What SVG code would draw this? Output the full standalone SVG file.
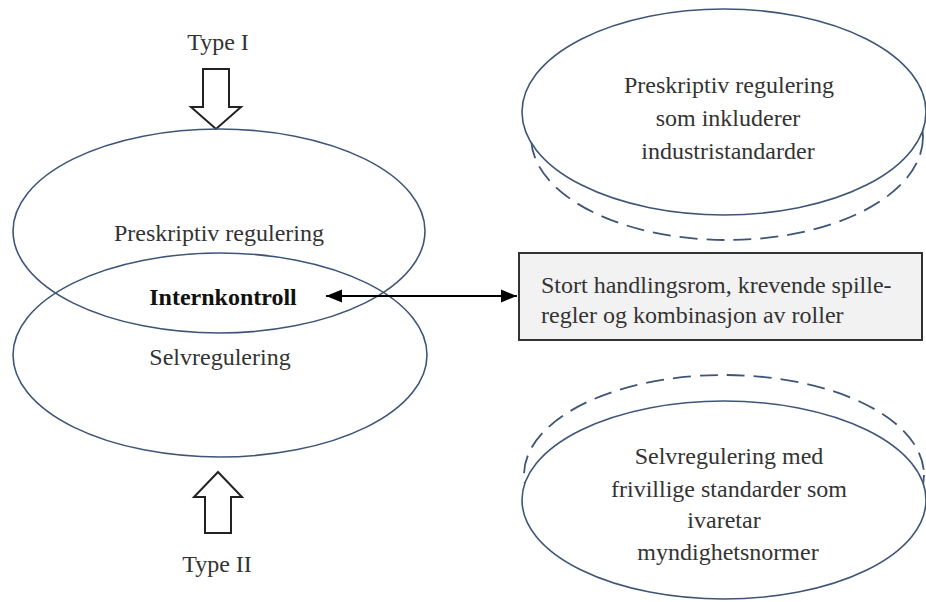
<svg xmlns="http://www.w3.org/2000/svg" width="926" height="602" viewBox="0 0 926 602">
<defs>
<style>
.ell{fill:none;stroke:#3f5577;stroke-width:1.6}
.ellw{fill:#ffffff;stroke:#3f5577;stroke-width:1.6}
.dash{fill:none;stroke:#3f5577;stroke-width:1.8;stroke-dasharray:18 9}
.blk{fill:#ffffff;stroke:#222;stroke-width:2}
.t{font-family:"Liberation Serif","Times New Roman",serif;font-size:24px;fill:#333;text-anchor:middle}
.tl{font-family:"Liberation Serif","Times New Roman",serif;font-size:24px;fill:#333}
.b{font-weight:bold;fill:#111}
.con{stroke:#000;stroke-width:2;fill:none}
</style>
<marker id="ah" viewBox="0 0 10 10" refX="10" refY="5" markerWidth="8" markerHeight="8" markerUnits="strokeWidth" orient="auto-start-reverse">
<path d="M0,1 L10,5 L0,9 Z" fill="#000"/>
</marker>
</defs>
<rect width="926" height="602" fill="#ffffff"/>

<g id="type1">
<text class="t" x="218" y="50">Type I</text>
<path class="blk" d="M203,69 L229,69 L229,107 L241,107 L216,129 L191,107 L203,107 Z"/>
</g>

<g id="type2">
<path class="blk" d="M218,472 L242,497 L231,497 L231,533 L205,533 L205,497 L194,497 Z"/>
<text class="t" x="217" y="572">Type II</text>
</g>

<g id="preskriptiv">
<ellipse class="ell" cx="219" cy="231" rx="206" ry="102"/>
<text class="t" x="219" y="241">Preskriptiv regulering</text>
</g>

<g id="selvregulering">
<ellipse class="ell" cx="220" cy="355" rx="207" ry="102"/>
<text class="t" x="220" y="365">Selvregulering</text>
</g>

<g id="internkontroll">
<text class="t b" x="223" y="305">Internkontroll</text>
</g>

<g id="handlingsrom">
<rect x="519" y="253" width="403" height="87" fill="#f2f2f2" stroke="#333" stroke-width="2"/>
<text class="tl" x="541" y="293">Stort handlingsrom, krevende spille-</text>
<text class="tl" x="541" y="323">regler og kombinasjon av roller</text>
</g>

<g id="preskriptiv-industri">
<ellipse class="dash" cx="727" cy="137" rx="196" ry="103"/>
<ellipse class="ellw" cx="724" cy="112" rx="202" ry="103"/>
<text class="t" x="729" y="93">Preskriptiv regulering</text>
<text class="t" x="728" y="126">som inkluderer</text>
<text class="t" x="728" y="159">industristandarder</text>
</g>

<g id="selvregulering-frivillig">
<ellipse class="dash" cx="724" cy="475" rx="200" ry="100"/>
<ellipse class="ellw" cx="724" cy="500" rx="202" ry="99"/>
<text class="t" x="729" y="464">Selvregulering med</text>
<text class="t" x="729" y="497">frivillige standarder som</text>
<text class="t" x="724" y="528">ivaretar</text>
<text class="t" x="728" y="560">myndighetsnormer</text>
</g>

<g id="connectors">
<line class="con" x1="326" y1="296" x2="517" y2="296" marker-start="url(#ah)" marker-end="url(#ah)"/>
</g>
</svg>
